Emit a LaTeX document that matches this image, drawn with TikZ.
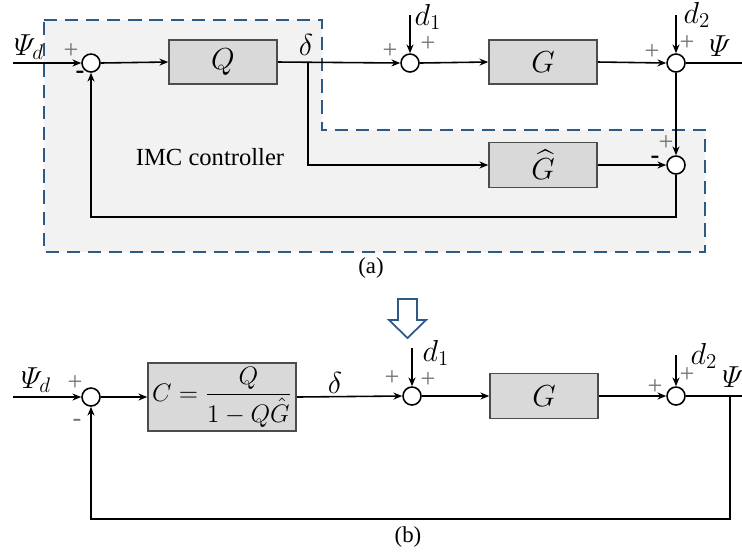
\documentclass[tikz,border=0pt]{standalone}
\usepackage{amssymb,amsmath}
\usepackage{fontspec}
\setmainfont{Liberation Serif}
\usepackage{tikz}
\usetikzlibrary{arrows.meta, calc, positioning}

\definecolor{dashblue}{HTML}{2E5A86}
\definecolor{boxgray}{HTML}{D9D9D9}
\definecolor{regiongray}{HTML}{F2F2F2}

\tikzset{
    sig/.style={line width=0.9pt, -{Stealth[length=5pt, width=4pt]}},
    wire/.style={line width=0.9pt},
    sumnode/.style={circle, draw, line width=0.9pt, fill=white, minimum size=0.36cm, inner sep=0pt},
    blockbox/.style={rectangle, draw=black!70, line width=0.9pt, fill=boxgray, font=\fontsize{17}{20}\selectfont},
    lbl/.style={font=\fontsize{17}{20}\selectfont, inner sep=0pt},
    sgn/.style={font=\fontsize{15}{16}\selectfont, text=black!55, inner sep=0pt},
    neg/.style={font=\bfseries\fontsize{15}{16}\selectfont, inner sep=0pt}
}

\begin{document}
\begin{tikzpicture}[x=0.02cm, y=-0.02cm]
    \useasboundingbox (0,0) rectangle (742,556);

    % IMC region
    \fill[regiongray] (44,20) -- (322,20) -- (322,130) -- (705,130) -- (705,252) -- (44,252) -- cycle;
    \draw[dashblue, line width=1.6pt, dash pattern=on 7.5pt off 4.5pt] (44,20) -- (322,20) -- (322,130) -- (705,130) -- (705,252) -- (44,252) -- cycle;
    \node[font=\fontsize{14}{16}\selectfont] (imc) at (210,157) {IMC controller};

    % (a) blocks and summing points
    \node[sumnode] (sa1) at (91,63) {};
    \node[blockbox, minimum width=2.16cm, minimum height=0.88cm] (q) at (223,62) {$Q$};
    \node[sumnode] (sa2) at (410,63) {};
    \node[blockbox, minimum width=2.16cm, minimum height=0.88cm] (ga) at (543,62) {$G$};
    \node[sumnode] (sa3) at (676,63) {};
    \node[blockbox, minimum width=2.16cm, minimum height=0.9cm] (gh) at (543,165) {$\widehat{G}$};
    \node[sumnode] (sa4) at (676,165) {};

    \coordinate (ina) at (13,63);
    \coordinate (outa) at (742,63);
    \coordinate (dela) at (308,63);
    \coordinate (d1a) at (410,15);
    \coordinate (d2a) at (676,15);
    \coordinate (fba) at (91,217);

    % (a) connectors
    \draw[sig] (ina) -- (sa1.west);
    \draw[sig] (sa1.east) -- (q.west);
    \draw[sig] (q.east) -- (sa2.west);
    \draw[sig] (d1a) -- (sa2.north);
    \draw[sig] (sa2.east) -- (ga.west);
    \draw[sig] (ga.east) -- (sa3.west);
    \draw[sig] (d2a) -- (sa3.north);
    \draw[wire] (sa3.east) -- (outa);
    \draw[sig] (sa3.south) -- (sa4.north);
    \draw[sig] (dela) |- (gh.west);
    \draw[sig] (gh.east) -- (sa4.west);
    \draw[sig] (sa4.south) |- (fba) -- (sa1.south);

    % (a) labels
    \node[lbl] (psida) at (29,47) {$\varPsi_d$};
    \node[lbl] (delta) at (306,45) {$\delta$};
    \node[lbl] (d1la) at (428,17) {$d_1$};
    \node[lbl] (d2la) at (697,15) {$d_2$};
    \node[lbl] (psia) at (720,46) {$\varPsi$};
    \node[sgn] at (71,51) {+};
    \node[neg] at (80,75) {-};
    \node[sgn] at (390,51) {+};
    \node[sgn] at (428,44) {+};
    \node[sgn] at (652,52) {+};
    \node[sgn] at (687,43) {+};
    \node[sgn] at (666,143) {+};
    \node[neg] at (655,160) {-};
    \node[font=\fontsize{13}{15}\selectfont] (capa) at (371,268) {(a)};

    % Hollow arrow
    \draw[dashblue, line width=1pt] (398,299) -- (417,299) -- (417,320) -- (426,320) -- (407.5,338) -- (389,320) -- (398,320) -- cycle;

    % (b) blocks and summing points
    \node[sumnode] (sb1) at (91,397) {};
    \node[blockbox, font=\fontsize{14.5}{17}\selectfont, inner sep=2pt, minimum width=2.96cm, minimum height=1.22cm] (c) at (222,397) {$C=\dfrac{Q}{1-Q\hat{G}}$};
    \node[sumnode] (sb2) at (412,396) {};
    \node[blockbox, minimum width=2.16cm, minimum height=0.9cm] (gb) at (544,396) {$G$};
    \node[sumnode] (sb3) at (676,396) {};

    \coordinate (inb) at (13,397);
    \coordinate (outb) at (742,396);
    \coordinate (psib) at (730,396);
    \coordinate (d1b) at (412,348);
    \coordinate (d2b) at (676,355);
    \coordinate (fbb) at (91,519);

    % (b) connectors
    \draw[sig] (inb) -- (sb1.west);
    \draw[sig] (sb1.east) -- (c.west);
    \draw[sig] (c.east) -- (sb2.west);
    \draw[sig] (d1b) -- (sb2.north);
    \draw[sig] (sb2.east) -- (gb.west);
    \draw[sig] (gb.east) -- (sb3.west);
    \draw[sig] (d2b) -- (sb3.north);
    \draw[wire] (sb3.east) -- (outb);
    \draw[sig] (psib) |- (fbb) -- (sb1.south);

    % (b) labels
    \node[lbl] (psidb) at (36,380) {$\varPsi_d$};
    \node[lbl] (deltb) at (335,383) {$\delta$};
    \node[lbl] (d1lb) at (436,353) {$d_1$};
    \node[lbl] (d2lb) at (704,356) {$d_2$};
    \node[lbl] (psilb) at (733,377) {$\varPsi$};
    \node[sgn] at (75,383) {+};
    \node[sgn] at (77,423) {-};
    \node[sgn] at (392,378) {+};
    \node[sgn] at (428,380) {+};
    \node[sgn] at (655,387) {+};
    \node[sgn] at (687,375) {+};
    \node[font=\fontsize{13}{15}\selectfont] (capb) at (408,537) {(b)};
\end{tikzpicture}
\end{document}
